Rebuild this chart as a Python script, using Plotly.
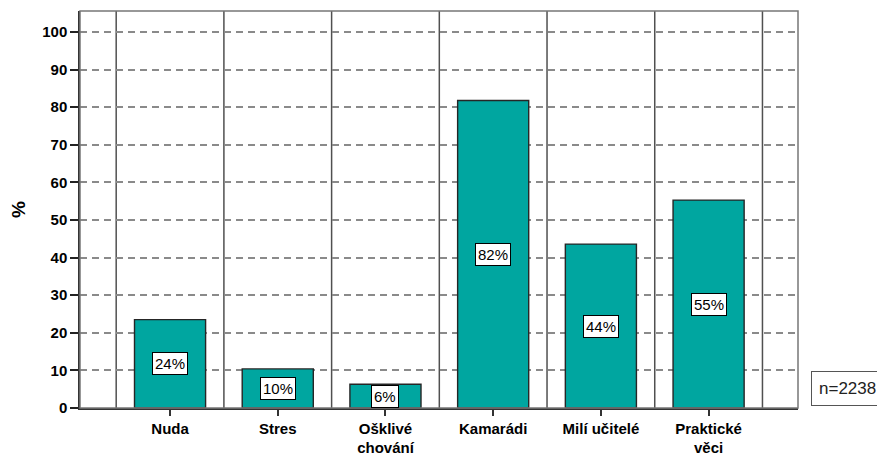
import plotly.graph_objects as go

categories = ["Nuda", "Stres", "Ošklivé<br>chování", "Kamarádi", "Milí učitelé", "Praktické<br>věci"]
values = [23.5, 10.4, 6.3, 81.8, 43.6, 55.3]
labels = ["24%", "10%", "6%", "82%", "44%", "55%"]
y_ticks = [0, 10, 20, 30, 40, 50, 60, 70, 80, 90, 100]
n_text = "n=2238"

xs = list(range(len(categories)))
FONT = "Liberation Sans, Arial"

fig = go.Figure()
fig.add_trace(go.Bar(
    x=xs, y=values, width=0.66,
    marker=dict(color="#00a6a0", line=dict(color="#262626", width=1.4)),
    hoverinfo="skip",
))

# value labels in the middle of each bar
for x, v, t in zip(xs, values, labels):
    fig.add_annotation(
        x=x, y=v / 2, xref="x", yref="y", text=t, showarrow=False,
        font=dict(family=FONT, size=15, color="black"),
        bgcolor="white", bordercolor="black", borderwidth=1, borderpad=2,
    )

# vertical separator lines between categories
for i in range(len(categories) + 1):
    fig.add_shape(type="line", xref="x", yref="paper", x0=i - 0.5, x1=i - 0.5, y0=0, y1=1,
                  line=dict(color="#505050", width=1.5), layer="below")

fig.add_annotation(
    xref="paper", yref="paper", x=1.0, y=0.0, xanchor="left", yanchor="bottom",
    xshift=13, yshift=2, text=n_text, showarrow=False, align="left",
    font=dict(family=FONT, size=17, color="#222"),
    bgcolor="white", bordercolor="#555", borderwidth=1, borderpad=7,
)

# page body has an 8px margin, so the figure is sized/shifted to compensate
fig.update_layout(
    width=877, height=447,
    margin=dict(l=72, r=87, t=3, b=47, autoexpand=False),
    plot_bgcolor="white", paper_bgcolor="white",
    showlegend=False,
    xaxis=dict(
        range=[-0.836, 5.83], tickmode="array", tickvals=xs, ticktext=categories,
        ticks="outside", ticklen=6, tickwidth=1.5, tickcolor="#333",
        tickfont=dict(family=FONT, size=15, color="black", weight="bold"),
        showgrid=False, showline=True, linecolor="#333", linewidth=1.5,
        zeroline=False, fixedrange=True, automargin=False,
    ),
    yaxis=dict(
        range=[0, 105.6], tickmode="array", tickvals=y_ticks,
        ticks="outside", ticklen=8, tickwidth=1.5, tickcolor="#222",
        tickfont=dict(family=FONT, size=15, color="black", weight="bold"),
        showgrid=True, gridcolor="#8a8a8a", gridwidth=1.5, griddash="7px,5px",
        showline=True, linecolor="#333", linewidth=1.5,
        zeroline=False, automargin=False,
        title=dict(text="%", font=dict(family=FONT, size=19, color="black", weight="bold"), standoff=20),
    ),
)
# frame top/right
fig.add_shape(type="rect", xref="paper", yref="paper", x0=0, x1=1, y0=0, y1=1,
              line=dict(color="#777777", width=1.5), layer="above")

fig.write_html("out.html")
